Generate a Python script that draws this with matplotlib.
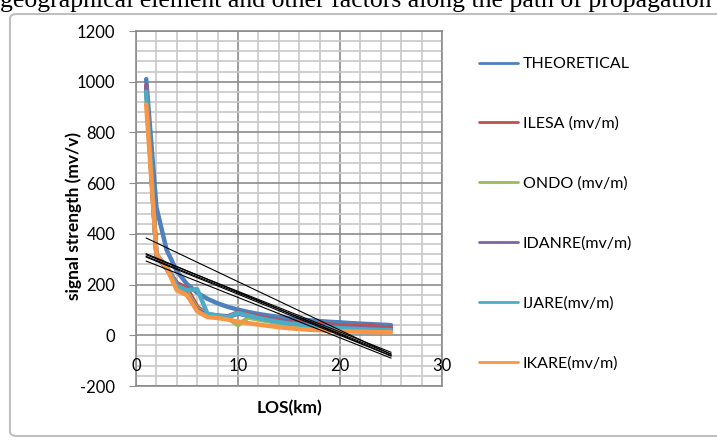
import matplotlib.pyplot as plt
import numpy as np
from matplotlib.patches import FancyBboxPatch
from matplotlib.ticker import MultipleLocator

# LOS distance (km) and signal strengths
los = np.arange(1, 26)
theoretical = [1010, 505, 337, 253, 202, 168, 144, 126, 112, 101, 92, 84, 78,
               72, 67, 63, 59, 56, 53, 51, 48, 46, 44, 42, 40]
ilesa = [985, 318, 268, 206, 186, 112, 82, 78, 75, 90, 82, 75, 65,
         58, 54, 52, 48, 45, 42, 38, 36, 38, 38, 32, 30]
ondo = [975, 312, 265, 195, 170, 105, 80, 74, 68, 40, 70, 62, 55,
        48, 44, 40, 36, 32, 29, 26, 24, 22, 21, 20, 19]
idanre = [980, 315, 262, 200, 160, 100, 80, 76, 72, 85, 78, 70, 62,
          55, 50, 46, 42, 38, 35, 32, 30, 28, 27, 25, 24]
ijare = [960, 320, 268, 195, 178, 182, 85, 78, 72, 88, 78, 68, 60,
         52, 46, 42, 38, 34, 30, 28, 26, 24, 22, 21, 20]
ikare = [910, 320, 265, 178, 158, 95, 72, 68, 62, 54, 48, 42, 37,
         32, 28, 25, 22, 20, 18, 16, 15, 14, 13, 12, 12]

labels = ["THEORETICAL", "ILESA (mv/m)", "ONDO (mv/m)", "IDANRE(mv/m)",
          "IJARE(mv/m)", "IKARE(mv/m)"]
series = [theoretical, ilesa, ondo, idanre, ijare, ikare]
colors = ["#4F81BD", "#C0504D", "#9BBB59", "#8064A2", "#4BACC6", "#F79646"]
xticks = [0, 10, 20, 30]

plt.rcParams['font.family'] = ['Lato', 'DejaVu Sans']
plt.rcParams['axes.unicode_minus'] = False

fig = plt.figure(figsize=(7.17, 4.4), dpi=100)

# page text cut off at the top and the chart frame
fig.text(0.0, 1 - 7 / 440, "geographical element and other factors along the path of propagation",
         family='Liberation Serif', fontsize=18.5, va='baseline', ha='left')
fig.add_artist(FancyBboxPatch((10 / 717, 4 / 440), 1.05, 422 / 440,
                              boxstyle="round,pad=0,rounding_size=0.01",
                              transform=fig.transFigure, fill=False,
                              edgecolor='#bfbfbf', linewidth=1.5))

ax = fig.add_axes([136 / 717, 1 - 386 / 440, 306 / 717, 355 / 440])

for y, lab, c in zip(series, labels, colors):
    ax.plot(los, y, color=c, linewidth=3.2, label=lab, solid_capstyle='round')

# linear trendlines, one per series
for y in series:
    k, b = np.polyfit(los, y, 1)
    ax.plot(los, k * los + b, color='black', linewidth=0.8)

ax.set_xlim(0, 30)
ax.set_ylim(-200, 1200)
ax.xaxis.set_major_locator(MultipleLocator(10))
ax.xaxis.set_minor_locator(MultipleLocator(2))
ax.yaxis.set_major_locator(MultipleLocator(200))
ax.yaxis.set_minor_locator(MultipleLocator(40))
ax.grid(which='major', color='#8c8c8c', linewidth=1.2)
ax.grid(which='minor', color='#c8c8c8', linewidth=1.2)
ax.set_axisbelow(True)
for s in ax.spines.values():
    s.set_color('#8c8c8c')
    s.set_linewidth(1.2)

ax.tick_params(axis='x', which='both', length=0, labelbottom=False)
ax.tick_params(axis='y', which='minor', length=0)
ax.tick_params(axis='y', which='major', length=5, color='#8c8c8c', pad=10,
               labelsize=12)
for t in xticks:
    ax.text(t, -123, str(t), ha='center', va='center', fontsize=12)

ax.set_ylabel("signal strength (mv/v)", fontsize=12.5, fontweight='bold')
ax.yaxis.set_label_coords(-0.178, 0.478)
ax.set_xlabel("LOS(km)", fontsize=12.5, fontweight='bold', labelpad=10)

leg = ax.legend(loc='upper left', bbox_to_anchor=(479 / 717, 1 - 57 / 440),
                bbox_transform=fig.transFigure, frameon=False, fontsize=11.5,
                labelspacing=2.85, handlelength=2.45, handletextpad=0.3,
                borderpad=0, borderaxespad=0)
for line in leg.get_lines():
    line.set_linewidth(2)

fig.savefig("out.png", dpi=100)
